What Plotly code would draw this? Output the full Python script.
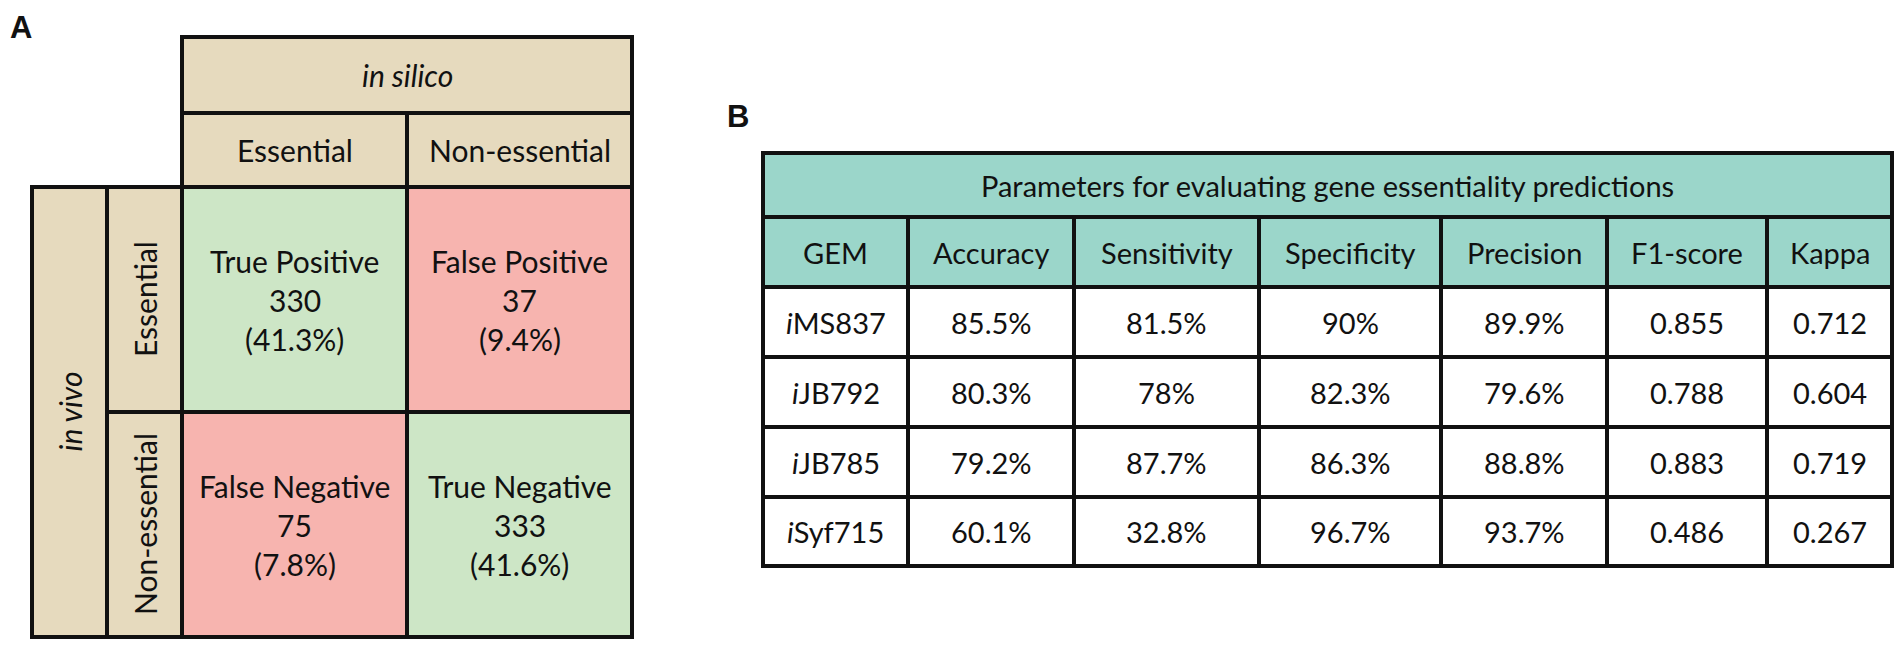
import plotly.graph_objects as go

# ============================
#    data
# ============================
# panel A - confusion matrix
in_silico_label = 'in silico'
in_vivo_label = 'in vivo'
classes = ['Essential', 'Non-essential']
cm_names = [['True Positive', 'False Positive'],
            ['False Negative', 'True Negative']]
cm_counts = [[330, 37], [75, 333]]
cm_pcts = [[41.3, 9.4], [7.8, 41.6]]

# panel B - evaluation table
table_title = 'Parameters for evaluating gene essentiality predictions'
metric_cols = ['GEM', 'Accuracy', 'Sensitivity', 'Specificity', 'Precision', 'F1-score', 'Kappa']
gems = ['MS837', 'JB792', 'JB785', 'Syf715']
accuracy = [85.5, 80.3, 79.2, 60.1]
sensitivity = [81.5, 78, 87.7, 32.8]
specificity = [90, 82.3, 86.3, 96.7]
precision = [89.9, 79.6, 88.8, 93.7]
f1_score = [0.855, 0.788, 0.883, 0.486]
kappa = [0.712, 0.604, 0.719, 0.267]

# ============================
#    layout (pixel grid)
# ============================
W, H = 1904, 646
A_x = [32, 107, 182, 407, 632]
A_y = [37, 113, 187, 412, 637]
B_x = [763, 908, 1074, 1259, 1441, 1607, 1767, 1892]
B_y = [153, 217, 287, 357, 427, 497, 566]

TAN = '#E6DABE'
GREEN = '#CDE6C6'
PINK = '#F7B4AF'
TEAL = '#9BD6CA'
INK = '#111111'
FONT = 'Lato'
LW = 4
SIZE_A = 30
SIZE_B = 29
PITCH_A = 39  # line pitch inside the confusion-matrix cells

fig = go.Figure()
fills = []
edges = []


def cell(x0, x1, y0, y1, color):
    fills.append(dict(type='rect', x0=x0, x1=x1, y0=y0, y1=y1, xref='x', yref='y',
                      fillcolor=color, line=dict(width=0), layer='below'))
    edges.append(dict(type='rect', x0=x0, x1=x1, y0=y0, y1=y1, xref='x', yref='y',
                      fillcolor='rgba(0,0,0,0)', line=dict(color=INK, width=LW)))


def label(x, y, text, size, angle=0, italic=False, bold=False, family=FONT):
    if italic:
        text = '<i>' + text + '</i>'
    if bold:
        text = '<b>' + text + '</b>'
    fig.add_annotation(x=x, y=y, xref='x', yref='y', text=text, showarrow=False,
                       textangle=angle, xanchor='center', yanchor='middle',
                       font=dict(family=family, size=size, color=INK))


# ---- panel A ----
cell(A_x[2], A_x[4], A_y[0], A_y[1], TAN)
label((A_x[2] + A_x[4]) / 2, (A_y[0] + A_y[1]) / 2, in_silico_label, SIZE_A, italic=True)
for j, c in enumerate(classes):
    cell(A_x[2 + j], A_x[3 + j], A_y[1], A_y[2], TAN)
    label((A_x[2 + j] + A_x[3 + j]) / 2, (A_y[1] + A_y[2]) / 2, c, SIZE_A)

cell(A_x[0], A_x[1], A_y[2], A_y[4], TAN)
label((A_x[0] + A_x[1]) / 2, (A_y[2] + A_y[4]) / 2, in_vivo_label, SIZE_A, angle=-90, italic=True)
for i, c in enumerate(classes):
    cell(A_x[1], A_x[2], A_y[2 + i], A_y[3 + i], TAN)
    label((A_x[1] + A_x[2]) / 2, (A_y[2 + i] + A_y[3 + i]) / 2, c, SIZE_A, angle=-90)

for i in range(2):
    for j in range(2):
        color = GREEN if i == j else PINK
        cell(A_x[2 + j], A_x[3 + j], A_y[2 + i], A_y[3 + i], color)
        cx = (A_x[2 + j] + A_x[3 + j]) / 2
        cy = (A_y[2 + i] + A_y[3 + i]) / 2
        lines = [cm_names[i][j], '%d' % cm_counts[i][j], '(%.1f%%)' % cm_pcts[i][j]]
        for k, t in enumerate(lines):
            label(cx, cy + (k - 1) * PITCH_A, t, SIZE_A)

# ---- panel B ----
cell(B_x[0], B_x[-1], B_y[0], B_y[1], TEAL)
label((B_x[0] + B_x[-1]) / 2, (B_y[0] + B_y[1]) / 2, table_title, SIZE_B)
for j, m in enumerate(metric_cols):
    cell(B_x[j], B_x[j + 1], B_y[1], B_y[2], TEAL)
    label((B_x[j] + B_x[j + 1]) / 2, (B_y[1] + B_y[2]) / 2, m, SIZE_B)


def pct(v):
    return '%g%%' % v


columns = [['<i>i</i>' + g for g in gems],
           [pct(v) for v in accuracy],
           [pct(v) for v in sensitivity],
           [pct(v) for v in specificity],
           [pct(v) for v in precision],
           ['%.3f' % v for v in f1_score],
           ['%.3f' % v for v in kappa]]

for i in range(len(gems)):
    for j, col in enumerate(columns):
        cell(B_x[j], B_x[j + 1], B_y[2 + i], B_y[3 + i], 'white')
        label((B_x[j] + B_x[j + 1]) / 2, (B_y[2 + i] + B_y[3 + i]) / 2, col[i], SIZE_B)

# panel letters
label(21, 27, 'A', 31, bold=True, family='Liberation Sans')
label(738, 116, 'B', 31, bold=True, family='Liberation Sans')

fig.update_layout(
    shapes=fills + edges,
    width=W, height=H,
    margin=dict(l=0, r=0, t=0, b=0),
    paper_bgcolor='white', plot_bgcolor='white',
    showlegend=False,
    xaxis=dict(range=[0, W], visible=False, fixedrange=True),
    yaxis=dict(range=[H, 0], visible=False, fixedrange=True),
)

fig.write_html('out.html', config={'displayModeBar': False},
               post_script="document.body.style.margin='0';document.body.style.overflow='hidden';")
